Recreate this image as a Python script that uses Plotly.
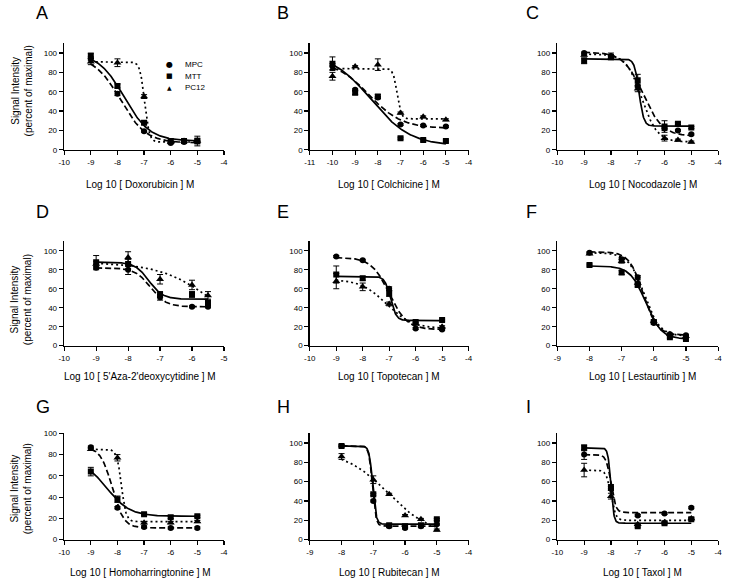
import numpy as np
import plotly.graph_objects as go

# ---------------- data ----------------
panel_letters = ["A", "B", "C", "D", "E", "F", "G", "H", "I"]
drug_names = ["Doxorubicin", "Colchicine", "Nocodazole", "5'Aza-2'deoxycytidine",
              "Topotecan", "Lestaurtinib", "Homoharringtonine", "Rubitecan", "Taxol"]
x_ranges = [(-10, -4), (-11, -4), (-10, -4), (-10, -5), (-10, -4), (-9, -4),
            (-10, -4), (-9, -4), (-10, -4)]
y_tops = [110, 110, 110, 110, 110, 110, 100, 110, 110]
y_ticks = [0, 20, 40, 60, 80, 100]
series_names = ["MPC", "MTT", "PC12"]

A_dose = [-9, -8, -7, -6, -5.5, -5]
A_MPC = [94, 58, 19, 7, 8, 9]
A_MTT = [97, 66, 28, 9, 9, 9]
A_PC12 = [91, 90, 55, 8, 9, 9]
A_MPC_err = [2, 2, 1, 1, 1, 5]
A_MTT_err = [3, 2, 2, 2, 1, 3]
A_PC12_err = [3, 4, 2, 1, 1, 1]
A_fit_MPC = [97, 7, -7.9, 0.9]      # top, bottom, logEC50, hill
A_fit_MTT = [100, 9, -7.75, 0.9]
A_fit_PC12 = [91, 8, -6.98, 5]

B_dose = [-10, -9, -8, -7, -6, -5]
B_MPC = [86, 62, 54, 26, 25, 24]
B_MTT = [89, 59, 55, 12, 10, 9]
B_PC12 = [76, 86, 88, 38, 34, 31]
B_MPC_err = [3, 1, 1, 1, 1, 1]
B_MTT_err = [7, 2, 2, 1, 1, 1]
B_PC12_err = [4, 1, 6, 1, 1, 1]
B_fit_MPC = [92, 22, -8.4, 0.6]
B_fit_MTT = [100, 4, -8.3, 0.5]
B_fit_PC12 = [84, 32, -7.15, 5]

C_dose = [-9, -8, -7, -6, -5.5, -5]
C_MPC = [100, 97, 66, 22, 20, 16]
C_MTT = [92, 96, 72, 24, 27, 23]
C_PC12 = [98, 95, 63, 12, 10, 8]
C_MPC_err = [1, 3, 2, 2, 1, 1]
C_MTT_err = [3, 1, 6, 6, 1, 1]
C_PC12_err = [1, 2, 3, 3, 1, 1]
C_fit_MPC = [101, 14, -6.8, 1.2]
C_fit_MTT = [94, 24.5, -6.95, 5]
C_fit_PC12 = [99, 8, -6.85, 1.5]

D_dose = [-9, -8, -7, -6, -5.5]
D_MPC = [82, 80, 51, 41, 41]
D_MTT = [88, 86, 54, 54, 45]
D_PC12 = [86, 93, 70, 64, 53]
D_MPC_err = [2, 5, 3, 1, 1]
D_MTT_err = [7, 5, 3, 3, 3]
D_PC12_err = [3, 6, 5, 5, 4]
D_fit_MPC = [82, 41, -7.3, 1.8]
D_fit_MTT = [88, 49, -7.35, 2]
D_fit_PC12 = [88, 0, -5.2, 0.5]

E_dose = [-9, -8, -7, -6, -5]
E_MPC = [94, 90, 60, 18, 17]
E_MTT = [75, 71, 55, 25, 27]
E_PC12 = [68, 62, 44, 23, 20]
E_MPC_err = [1, 1, 2, 1, 1]
E_MTT_err = [9, 2, 3, 1, 1]
E_PC12_err = [8, 4, 2, 1, 1]
E_fit_MPC = [93, 17, -7.0, 1.3]
E_fit_MTT = [73, 26.5, -6.95, 4]
E_fit_PC12 = [70, 18, -7.1, 0.9]

F_dose = [-8, -7, -6.5, -6, -5.5, -5]
F_MPC = [98, 91, 72, 24, 12, 11]
F_MTT = [85, 77, 64, 25, 9, 7]
F_PC12 = [97, 89, 66, 26, 12, 10]
F_MPC_err = [1, 2, 2, 1, 1, 1]
F_MTT_err = [1, 2, 2, 1, 1, 1]
F_PC12_err = [1, 2, 2, 1, 1, 1]
F_fit_MPC = [99, 11, -6.33, 2]
F_fit_MTT = [84, 7, -6.25, 1.8]
F_fit_PC12 = [98, 10, -6.3, 1.8]

G_dose = [-9, -8, -7, -6, -5]
G_MPC = [87, 30, 12, 11, 11]
G_MTT = [64, 38, 24, 21, 22]
G_PC12 = [85, 77, 16, 16, 17]
G_MPC_err = [1, 1, 1, 1, 1]
G_MTT_err = [4, 3, 1, 1, 1]
G_PC12_err = [1, 3, 1, 1, 1]
G_fit_MPC = [87, 11, -8.2, 2]
G_fit_MTT = [75, 22, -8.4, 1]
G_fit_PC12 = [85, 17, -7.85, 5]

H_dose = [-8, -7, -6.5, -6, -5.5, -5]
H_MPC = [97, 40, 14, 12, 14, 16]
H_MTT = [97, 47, 15, 14, 15, 21]
H_PC12 = [86, 62, 47, 25, 21, 10]
H_MPC_err = [1, 1, 1, 1, 1, 1]
H_MTT_err = [1, 1, 1, 1, 1, 1]
H_PC12_err = [3, 4, 1, 1, 1, 1]
H_fit_MPC = [97, 14, -7.03, 8]
H_fit_MTT = [97, 16, -7.02, 8]
H_fit_PC12 = [92, 5, -6.55, 0.65]

I_dose = [-9, -8, -7, -6, -5]
I_MPC = [88, 53, 25, 27, 33]
I_MTT = [95, 54, 14, 17, 21]
I_PC12 = [72, 45, 16, 18, 22]
I_MPC_err = [5, 2, 1, 1, 1]
I_MTT_err = [3, 3, 1, 1, 1]
I_PC12_err = [7, 3, 1, 1, 1]
I_fit_MPC = [88, 28, -8.0, 5]
I_fit_MTT = [95, 17, -8.0, 8]
I_fit_PC12 = [72, 20, -8.0, 5]

doses = [A_dose, B_dose, C_dose, D_dose, E_dose, F_dose, G_dose, H_dose, I_dose]
values = [
    [A_MPC, A_MTT, A_PC12], [B_MPC, B_MTT, B_PC12], [C_MPC, C_MTT, C_PC12],
    [D_MPC, D_MTT, D_PC12], [E_MPC, E_MTT, E_PC12], [F_MPC, F_MTT, F_PC12],
    [G_MPC, G_MTT, G_PC12], [H_MPC, H_MTT, H_PC12], [I_MPC, I_MTT, I_PC12],
]
errors = [
    [A_MPC_err, A_MTT_err, A_PC12_err], [B_MPC_err, B_MTT_err, B_PC12_err],
    [C_MPC_err, C_MTT_err, C_PC12_err], [D_MPC_err, D_MTT_err, D_PC12_err],
    [E_MPC_err, E_MTT_err, E_PC12_err], [F_MPC_err, F_MTT_err, F_PC12_err],
    [G_MPC_err, G_MTT_err, G_PC12_err], [H_MPC_err, H_MTT_err, H_PC12_err],
    [I_MPC_err, I_MTT_err, I_PC12_err],
]
fits = [
    [A_fit_MPC, A_fit_MTT, A_fit_PC12], [B_fit_MPC, B_fit_MTT, B_fit_PC12],
    [C_fit_MPC, C_fit_MTT, C_fit_PC12], [D_fit_MPC, D_fit_MTT, D_fit_PC12],
    [E_fit_MPC, E_fit_MTT, E_fit_PC12], [F_fit_MPC, F_fit_MTT, F_fit_PC12],
    [G_fit_MPC, G_fit_MTT, G_fit_PC12], [H_fit_MPC, H_fit_MTT, H_fit_PC12],
    [I_fit_MPC, I_fit_MTT, I_fit_PC12],
]

# ---------------- styling / layout ----------------
W, H = 730, 587
FONT = "Liberation Sans, Arial, Helvetica, sans-serif"
col_px = [(59, 221), (308, 469), (559, 722)]
row_px = [(40, 148), (241, 347), (436, 544)]
title_shift = [-4, 0, 5]
letter_x = [28, 273, 525]
letter_y = [9, 211, 409]
symbols = ["circle", "square", "triangle-up"]
sizes = [6, 6, 7]
dashes = ["6px,3px", "solid", "2px,3px"]


def four_pl(x, top, bottom, c, h):
    return bottom + (top - bottom) / (1.0 + 10.0 ** ((x - c) * h))


fig = go.Figure()
layout = dict(
    width=W, height=H, margin=dict(l=0, r=0, t=0, b=0),
    paper_bgcolor="white", plot_bgcolor="white", showlegend=False,
    font=dict(family=FONT, color="black"),
)
annotations = []

for i in range(9):
    r, c = divmod(i, 3)
    ax = "" if i == 0 else str(i + 1)
    xd = [col_px[c][0] / W, col_px[c][1] / W]
    yd = [1 - row_px[r][1] / H, 1 - row_px[r][0] / H]
    lo, hi = x_ranges[i]
    xt = list(range(lo, hi + 1))
    layout["xaxis" + ax] = dict(
        domain=xd, anchor="y" + ax, range=[lo, hi], tickvals=xt,
        ticktext=[str(v) for v in xt], showline=True, linecolor="black",
        linewidth=1.5, ticks="outside", ticklen=4, tickwidth=1.2,
        tickcolor="black", showgrid=False, zeroline=False,
        tickfont=dict(size=8, family=FONT, color="black"), fixedrange=True,
    )
    layout["yaxis" + ax] = dict(
        domain=yd, anchor="x" + ax, range=[0, y_tops[i]], tickvals=y_ticks,
        showline=True, linecolor="black", linewidth=1.5, ticks="outside",
        ticklen=4, tickwidth=1.2, tickcolor="black", showgrid=False,
        zeroline=False, tickfont=dict(size=8, family=FONT, color="black"),
        fixedrange=True,
    )
    xs = np.linspace(min(doses[i]), max(doses[i]), 300)
    for s in range(3):
        p = fits[i][s]
        fig.add_trace(go.Scatter(
            x=xs, y=four_pl(xs, *p), mode="lines", xaxis="x" + ax, yaxis="y" + ax,
            line=dict(color="black", width=1.7, dash=dashes[s]),
            hoverinfo="skip", name=series_names[s],
        ))
        fig.add_trace(go.Scatter(
            x=doses[i], y=values[i][s], mode="markers", xaxis="x" + ax,
            yaxis="y" + ax, name=series_names[s],
            marker=dict(symbol=symbols[s], size=sizes[s], color="black"),
            error_y=dict(type="data", array=errors[i][s], visible=True,
                         color="black", thickness=1, width=3),
        ))
    # x-axis title
    annotations.append(dict(
        text="Log 10 [ %s ] M" % drug_names[i], xref="paper", yref="paper",
        x=((col_px[c][0] + col_px[c][1]) / 2 + title_shift[c]) / W,
        y=1 - [183, 378, 577][r] / H,
        xanchor="center", yanchor="middle", showarrow=False,
        font=dict(size=10, family=FONT, color="black"),
    ))
    # panel letter
    annotations.append(dict(
        text=panel_letters[i], xref="paper", yref="paper",
        x=letter_x[c] / W, y=1 - letter_y[r] / H,
        xanchor="left", yanchor="middle", showarrow=False,
        font=dict(size=18, family=FONT, color="black"),
    ))

# y titles (first column)
for r, yc in enumerate([88, 300, 492]):
    annotations.append(dict(
        text="Signal Intensity<br>(percent of maximal)", xref="paper",
        yref="paper", x=16 / W, y=1 - yc / H, xanchor="center",
        yanchor="middle", textangle=-90, showarrow=False,
        font=dict(size=10, family=FONT, color="black"),
    ))

# legend in panel A
leg_glyphs = ["\u25CF", "\u25A0", "\u25B2"]
leg_glyph_sizes = [8, 7, 6]
for k, yc in enumerate([61.5, 73.5, 85]):
    annotations.append(dict(
        text=leg_glyphs[k], xref="paper", yref="paper", x=166 / W,
        y=1 - yc / H, xanchor="center", yanchor="middle", showarrow=False,
        font=dict(size=leg_glyph_sizes[k], family="DejaVu Sans", color="black"),
    ))
    annotations.append(dict(
        text=series_names[k], xref="paper", yref="paper", x=179 / W,
        y=1 - yc / H, xanchor="left", yanchor="middle", showarrow=False,
        font=dict(size=8, family=FONT, color="black"),
    ))

layout["annotations"] = annotations
fig.update_layout(**layout)
fig.write_html(
    "out.html",
    config={"displayModeBar": False, "staticPlot": True},
    post_script="document.body.style.margin='0';document.body.style.padding='0';"
                "document.body.style.overflow='hidden';",
)
